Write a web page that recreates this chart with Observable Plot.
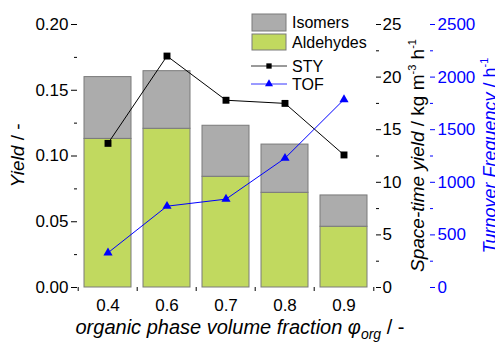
<!DOCTYPE html>
<html><head><meta charset="utf-8">
<script src="https://cdn.jsdelivr.net/npm/d3@7"></script>
<script src="https://cdn.jsdelivr.net/npm/@observablehq/plot@0.6"></script>
<style>
html,body{margin:0;padding:0;overflow:hidden;background:#fff}
#chart svg{font-family:"Liberation Sans",Arial,sans-serif}
</style>
</head><body><div id="chart"></div>
<script>
// ---- data ----
const fractions = ["0.4", "0.6", "0.7", "0.8", "0.9"];
const aldehydes = [0.113, 0.1207, 0.0842, 0.072, 0.0462];
const isomers = [0.047, 0.0438, 0.0388, 0.0367, 0.0238];
const sty = [13.7, 22.0, 17.8, 17.5, 12.6];
const tof = [330, 773, 840, 1229, 1787];
const yieldTicks = [0, 0.05, 0.10, 0.15, 0.20];
const yieldMinor = [0.025, 0.075, 0.125, 0.175];
const styTicks = [0, 5, 10, 15, 20, 25];
const styMinor = [2.5, 7.5, 12.5, 17.5, 22.5];
const tofTicks = [0, 500, 1000, 1500, 2000, 2500];
const tofMinor = [250, 750, 1250, 1750, 2250];

// ---- layout / style ----
const W = 495, H = 342, mL = 77, mR = 120, mT = 24, mB = 55;
const yMax = 0.20, styMax = 25, tofMax = 2500;
const kS = yMax / styMax, kT = yMax / tofMax;
const green = "#c1d95f", gray = "#acacac", barStroke = "#7a7a7a", blue = "#0000ff";
const pIn = 0.195, pOut = 0.0975;
const step = (W - mL - mR) / (fractions.length - pIn + 2 * pOut);
const tofOffset = 54;
const tickFont = 17;

const rows = fractions.flatMap((f, i) => [
  {f, series: "Aldehydes", v: aldehydes[i]},
  {f, series: "Isomers", v: isomers[i]}
]);
const styRows = fractions.map((f, i) => ({f, v: sty[i] * kS}));
const tofRows = fractions.map((f, i) => ({f, v: tof[i] * kT}));
const blank = () => "";

const chart = Plot.plot({
  width: W, height: H,
  marginLeft: mL, marginRight: mR, marginTop: mT, marginBottom: mB,
  style: {fontFamily: '"Liberation Sans", Arial, sans-serif', fontSize: tickFont + "px", background: "#fff", color: "#000", overflow: "hidden"},
  x: {type: "band", domain: fractions, paddingInner: pIn, paddingOuter: pOut},
  y: {domain: [0, yMax]},
  color: {domain: ["Aldehydes", "Isomers"], range: [green, gray]},
  marks: [
    Plot.barY(rows, {x: "f", y: "v", fill: "series", stroke: barStroke, strokeWidth: 1}),
    Plot.line(styRows, {x: "f", y: "v", stroke: "#000", strokeWidth: 1}),
    Plot.dot(styRows, {x: "f", y: "v", symbol: "square", r: 3.9, fill: "#000", stroke: "none"}),
    Plot.line(tofRows, {x: "f", y: "v", stroke: blue, strokeWidth: 1}),
    Plot.dot(tofRows, {x: "f", y: "v", symbol: "triangle", r: 3.4, fill: blue, stroke: "none"}),
    // left axis
    Plot.axisY({ticks: yieldTicks, tickFormat: d3.format(".2f"), tickSize: 6, tickPadding: 3, label: null, line: true, fontSize: tickFont}),
    Plot.axisY({ticks: yieldMinor, tickFormat: blank, tickSize: 3, label: null}),
    // bottom axis
    Plot.axisX({tickSize: 0, tickPadding: 11, label: null, line: true, fontSize: tickFont}),
    Plot.axisX({tickSize: 4, tickFormat: blank, label: null, dx: -step / 2}),
    Plot.axisX({ticks: [fractions[fractions.length - 1]], tickSize: 4, tickFormat: blank, label: null, dx: step / 2}),
    // STY axis (right)
    Plot.axisY({anchor: "right", ticks: styTicks.map(v => v * kS), tickFormat: v => String(Math.round(v / kS)), tickSize: 5, tickPadding: 2, label: null, line: true, fontSize: tickFont}),
    Plot.axisY({anchor: "right", ticks: styMinor.map(v => v * kS), tickFormat: blank, tickSize: 3, label: null}),
    // TOF axis (right, offset)
    Plot.axisY({anchor: "right", dx: tofOffset, color: blue, ticks: tofTicks.map(v => v * kT), tickFormat: v => String(Math.round(v / kT)), tickSize: 5, tickPadding: 3, label: null, line: true, fontSize: tickFont}),
    Plot.axisY({anchor: "right", dx: tofOffset, color: blue, ticks: tofMinor.map(v => v * kT), tickFormat: blank, tickSize: 3, label: null})
  ]
});
document.getElementById("chart").appendChild(chart);

// ---- titles and legend ----
const svg = d3.select(chart);
const cy = (mT + (H - mB)) / 2;
const titleFont = 19;

svg.append("text")
  .attr("transform", `translate(24,${cy}) rotate(-90)`)
  .attr("text-anchor", "middle").attr("font-size", titleFont).attr("fill", "#000")
  .call(t => { t.append("tspan").attr("font-style", "italic").text("Yield"); t.append("tspan").text(" / -"); });

svg.append("text")
  .attr("transform", `translate(424,${cy}) rotate(-90)`)
  .attr("text-anchor", "middle").attr("font-size", titleFont).attr("fill", "#000")
  .call(t => {
    t.append("tspan").attr("font-style", "italic").text("Space-time yield");
    t.append("tspan").text(" / kg m");
    t.append("tspan").attr("dy", -8).attr("font-size", 11).text("-3");
    t.append("tspan").attr("dy", 8).text(" h");
    t.append("tspan").attr("dy", -8).attr("font-size", 11).text("-1");
  });

svg.append("text")
  .attr("transform", `translate(496,${cy}) rotate(-90)`)
  .attr("text-anchor", "middle").attr("font-size", 18).attr("fill", blue)
  .call(t => {
    t.append("tspan").attr("font-style", "italic").text("Turnover Frequency");
    t.append("tspan").text(" / h");
    t.append("tspan").attr("dy", -8).attr("font-size", 11).text("-1");
  });

svg.append("text")
  .attr("x", 240).attr("y", 334)
  .attr("text-anchor", "middle").attr("font-size", 20).attr("fill", "#000")
  .call(t => {
    t.append("tspan").attr("font-style", "italic").text("organic phase volume fraction \u03c6");
    t.append("tspan").attr("font-style", "italic").attr("dy", 5).attr("font-size", 14).text("org");
    t.append("tspan").attr("dy", -5).text(" / -");
  });

// legend
const lg = svg.append("g").attr("font-size", 16).attr("fill", "#000").attr("text-anchor", "start");
const boxes = [{label: "Isomers", fill: gray, y0: 14, y1: 31}, {label: "Aldehydes", fill: green, y0: 34, y1: 50}];
boxes.forEach(b => {
  lg.append("rect").attr("x", 252).attr("y", b.y0).attr("width", 34).attr("height", b.y1 - b.y0)
    .attr("fill", b.fill).attr("stroke", barStroke);
  lg.append("text").attr("x", 292).attr("y", (b.y0 + b.y1) / 2).attr("dy", "0.35em").text(b.label);
});
const lines = [{label: "STY", color: "#000", sym: d3.symbolSquare, y: 66}, {label: "TOF", color: blue, sym: d3.symbolTriangle, y: 84}];
lines.forEach(l => {
  lg.append("line").attr("x1", 251).attr("x2", 287).attr("y1", l.y).attr("y2", l.y).attr("stroke", l.color).attr("stroke-width", 0.8);
  lg.append("path").attr("transform", `translate(269,${l.y})`).attr("d", d3.symbol(l.sym, 28)()).attr("fill", l.color);
  lg.append("text").attr("x", 292).attr("y", l.y).attr("dy", "0.35em").text(l.label);
});
</script>
</body></html>
